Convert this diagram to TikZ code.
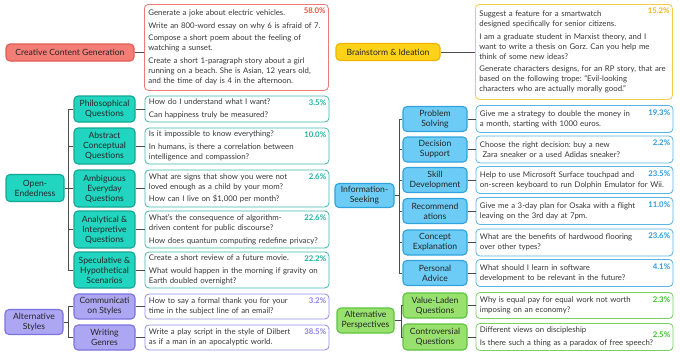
\documentclass[tikz,border=0pt]{standalone}
\usepackage{fontspec}
\setsansfont{Lato}
\frenchspacing
\usetikzlibrary{positioning}
\definecolor{redF}{HTML}{F47D75}\definecolor{redD}{HTML}{E35B55}\definecolor{redT}{HTML}{EE4F48}
\definecolor{teaF}{HTML}{22D5C0}\definecolor{teaD}{HTML}{12A893}\definecolor{teaT}{HTML}{1DB3A0}
\definecolor{yelF}{HTML}{FFD21A}\definecolor{yelD}{HTML}{F0B400}\definecolor{yelT}{HTML}{F5B520}
\definecolor{bluF}{HTML}{6DCCF5}\definecolor{bluD}{HTML}{2EA3DE}\definecolor{bluT}{HTML}{2A9BE0}
\definecolor{purF}{HTML}{ACA6F3}\definecolor{purD}{HTML}{7C72E0}\definecolor{purT}{HTML}{8C7FE6}
\definecolor{grnF}{HTML}{98E16E}\definecolor{grnD}{HTML}{5BC43A}\definecolor{grnT}{HTML}{3DC42E}
\begin{document}
\begin{tikzpicture}[x=1pt, y=-1pt, font=\sffamily,
  cat/.style={rounded corners=4pt, line width=1.1pt, align=center, inner sep=1pt,
              font=\sffamily\fontsize{8.6}{10}\selectfont, text=black!85},
  subl/.style={cat, minimum width=61pt},
  subr/.style={cat, minimum width=64pt},
  ex/.style={rounded corners=4pt, line width=0.8pt, fill=white, align=left,
             inner xsep=4pt, inner ysep=2pt, font=\sffamily\fontsize{7.8}{10}\selectfont,
             text=black!78},
  exl/.style={ex, text width=176pt},
  exr/.style={ex, text width=189pt},
  pct/.style={font=\sffamily\bfseries\fontsize{7.8}{9}\selectfont, anchor=north east, inner sep=1pt},
  conn/.style={draw=black!70, line width=0.8pt},
  red/.style={cat, draw=redD, fill=redF},
  tea/.style={draw=teaD, fill=teaF},
  yel/.style={cat, draw=yelD, fill=yelF},
  blu/.style={draw=bluD, fill=bluF},
  pur/.style={draw=purD, fill=purF},
  grn/.style={draw=grnD, fill=grnF}]
\useasboundingbox (0,0) rectangle (680,359);
% ---- left column
\node[red, minimum width=128pt, minimum height=17pt] (cre) at (70,52.5) {Creative Content Generation};
\node[exl, draw=redD!80, anchor=north west, minimum height=86pt] (cre-ex) at (144,4)
  {Generate a joke about electric vehicles.\\[2.5pt]
   Write an 800-word essay on why 6 is afraid of 7.\\[2.5pt]
   Compose a short poem about the feeling of\\watching a sunset.\\[2.5pt]
   Create a short 1-paragraph story about a girl\\running on a beach. She is Asian, 12 years old,\\and the time of day is 4 in the afternoon.};
\node[pct, text=redT] at ([xshift=-2pt,yshift=-3pt]cre-ex.north east) {58.0\%};
\draw[conn] (cre.east) -- (cre.east -| cre-ex.west);

\node[cat, tea, minimum width=58pt, minimum height=27pt] (oe) at (35,188) {Open-\\Endedness};
\node[subl, tea, minimum height=26pt] (phil) at (104.5,109) {Philosophical\\Questions};
\node[subl, tea, minimum height=36pt] (abst) at (104.5,146) {Abstract\\Conceptual\\Questions};
\node[subl, tea, minimum height=37pt] (ambi) at (104.5,188.5) {Ambiguous\\Everyday\\Questions};
\node[subl, tea, minimum height=37pt] (anal) at (104.5,229.5) {Analytical \&\\Interpretive\\Questions};
\node[subl, tea, minimum height=36pt] (spec) at (104.5,270) {Speculative \&\\Hypothetical\\Scenarios};
\node[exl, draw=teaD!80, minimum height=26pt, right=9pt of phil] (phil-ex)
  {How do I understand what I want?\\[2.5pt]Can happiness truly be measured?};
\node[exl, draw=teaD!80, minimum height=36pt, right=9pt of abst] (abst-ex)
  {Is it impossible to know everything?\\[2.5pt]In humans, is there a correlation between\\intelligence and compassion?};
\node[exl, draw=teaD!80, minimum height=37pt, right=9pt of ambi] (ambi-ex)
  {What are signs that show you were not\\loved enough as a child by your mom?\\[2.5pt]How can I live on \$1,000 per month?};
\node[exl, draw=teaD!80, minimum height=37pt, right=9pt of anal] (anal-ex)
  {What's the consequence of algorithm-\\driven content for public discourse?\\[2.5pt]How does quantum computing redefine privacy?};
\node[exl, draw=teaD!80, minimum height=36pt, right=9pt of spec] (spec-ex)
  {Create a short review of a future movie.\\[2.5pt]What would happen in the morning if gravity on\\Earth doubled overnight?};
\foreach \n/\p in {phil/3.5, abst/10.0, ambi/2.6, anal/22.6, spec/22.2}{
  \node[pct, text=teaT] at ([xshift=-2pt,yshift=-3pt]\n-ex.north east) {\p\%};
  \draw[conn] (oe.east) -- ++(4,0) |- (\n.west);
  \draw[conn] (\n.east) -- (\n-ex.west);
}

\node[cat, pur, minimum width=58pt, minimum height=25pt] (as) at (34,322) {Alternative\\Styles};
\node[subl, pur, minimum height=25pt] (comm) at (104.5,306.5) {Communicati\\on Styles};
\node[subl, pur, minimum height=25pt] (genr) at (104.5,337.5) {Writing\\Genres};
\node[exl, draw=purD!80, minimum height=25pt, right=9pt of comm] (comm-ex)
  {How to say a formal thank you for your\\time in the subject line of an email?};
\node[exl, draw=purD!80, minimum height=25pt, right=9pt of genr] (genr-ex)
  {Write a play script in the style of Dilbert\\as if a man in an apocalyptic world.};
\foreach \n/\p in {comm/3.2, genr/38.5}{
  \node[pct, text=purT] at ([xshift=-2pt,yshift=-3pt]\n-ex.north east) {\p\%};
  \draw[conn] (as.east) -- ++(5,0) |- (\n.west);
  \draw[conn] (\n.east) -- (\n-ex.west);
}
% ---- right column
\node[yel, minimum width=104pt, minimum height=17pt] (bra) at (388,52) {Brainstorm \& Ideation};
\node[exr, draw=yelD!70, anchor=north west, minimum height=95pt] (bra-ex) at (475,4)
  {Suggest a feature for a smartwatch\\designed specifically for senior citizens.\\[2.5pt]
   I am a graduate student in Marxist theory, and I\\want to write a thesis on Gorz. Can you help me\\think of some new ideas?\\[2.5pt]
   Generate characters designs, for an RP story, that are\\based on the following trope: “Evil-looking\\characters who are actually morally good.”};
\node[pct, text=yelT] at ([xshift=-2pt,yshift=-3pt]bra-ex.north east) {15.2\%};
\draw[conn] (bra.east) -- (bra.east -| bra-ex.west);

\node[cat, blu, minimum width=59pt, minimum height=24pt] (is) at (364.5,195.5) {Information-\\Seeking};
\node[subr, blu, minimum height=25pt] (prob) at (435,119) {Problem\\Solving};
\node[subr, blu, minimum height=25pt] (deci) at (435,149.5) {Decision\\Support};
\node[subr, blu, minimum height=25pt] (skil) at (435,180) {Skill\\Development};
\node[subr, blu, minimum height=25pt] (reco) at (435,211) {Recommend\\ations};
\node[subr, blu, minimum height=25pt] (conc) at (435,242.5) {Concept\\Explanation};
\node[subr, blu, minimum height=25pt] (pers) at (435,273) {Personal\\Advice};
\node[exr, draw=bluD!80, minimum height=27pt, right=8pt of prob] (prob-ex)
  {Give me a strategy to double the money in\\a month, starting with 1000 euros.};
\node[exr, draw=bluD!80, minimum height=27pt, right=8pt of deci] (deci-ex)
  {Choose the right decision: buy a new\\\ Zara sneaker or a used Adidas sneaker?};
\node[exr, draw=bluD!80, minimum height=27pt, right=8pt of skil] (skil-ex)
  {Help to use Microsoft Surface touchpad and\\on-screen keyboard to run Dolphin Emulator for Wii.};
\node[exr, draw=bluD!80, minimum height=27pt, right=8pt of reco] (reco-ex)
  {Give me a 3-day plan for Osaka with a flight\\leaving on the 3rd day at 7pm.};
\node[exr, draw=bluD!80, minimum height=27pt, right=8pt of conc] (conc-ex)
  {What are the benefits of hardwood flooring\\over other types?};
\node[exr, draw=bluD!80, minimum height=27pt, right=8pt of pers] (pers-ex)
  {What should I learn in software\\development to be relevant in the future?};
\foreach \n/\p in {prob/19.3, deci/2.2, skil/23.5, reco/11.0, conc/23.6, pers/4.1}{
  \node[pct, text=bluT] at ([xshift=-2pt,yshift=-3pt]\n-ex.north east) {\p\%};
  \draw[conn] (is.east) -- ++(5,0) |- (\n.west);
  \draw[conn] (\n.east) -- (\n-ex.west);
}

\node[cat, grn, minimum width=57pt, minimum height=25pt] (ap) at (365.5,320.5) {Alternative\\Perspectives};
\node[subr, grn, minimum height=25pt] (valu) at (435,305.5) {Value-Laden\\Questions};
\node[subr, grn, minimum height=26pt] (cont) at (435,337) {Controversial\\Questions};
\node[exr, draw=grnD!80, minimum height=26pt, right=8pt of valu] (valu-ex)
  {Why is equal pay for equal work not worth\\imposing on an economy?};
\node[exr, draw=grnD!80, minimum height=27pt, right=8pt of cont] (cont-ex)
  {Different views on discipleship\\[2.5pt]Is there such a thing as a paradox of free speech?};
\node[pct, text=grnT] at ([xshift=-2pt,yshift=-3pt]valu-ex.north east) {2.3\%};
\node[pct, text=grnT] at ([xshift=-2pt,yshift=-7pt]cont-ex.north east) {2.5\%};
\foreach \n in {valu, cont}{
  \draw[conn] (ap.east) -- ++(7,0) |- (\n.west);
  \draw[conn] (\n.east) -- (\n-ex.west);
}
\end{tikzpicture}
\end{document}
